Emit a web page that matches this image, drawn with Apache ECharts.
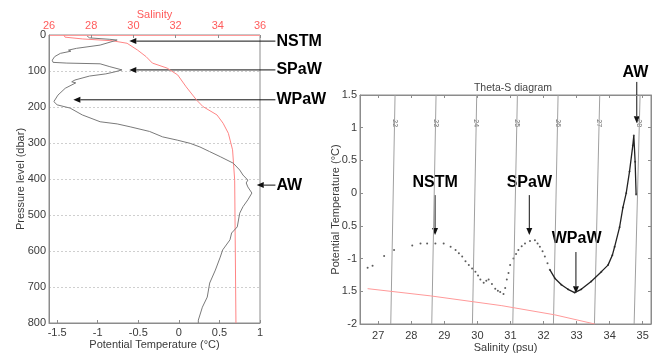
<!DOCTYPE html>
<html>
<head>
<meta charset="utf-8">
<script src="https://cdn.jsdelivr.net/npm/echarts@6/dist/echarts.min.js"></script>
<style>
  html, body { margin: 0; padding: 0; background: #fff; }
  #chart { width: 657px; height: 357px; }
</style>
</head>
<body>
<div id="chart"></div>
<script>
// left panel: potential temperature and salinity profiles vs pressure
const profTemp = [-1.13, -1.1, -0.85, -0.76, -0.97, -1.26, -1.36, -1.33, -1.46, -1.53, -1.56, -1.55, -1.38, -0.97,
  -0.85, -0.7, -0.8, -0.9, -1.1, -1.28, -1.32, -1.27, -1.4, -1.49, -1.54, -1.5, -1.34, -1.19, -0.97, -0.76,
  -0.6, -0.36, -0.2, -0.02, 0.14, 0.26, 0.38, 0.51, 0.67, 0.75, 0.79, 0.85, 0.83, 0.85, 0.9, 0.85, 0.79,
  0.75, 0.72, 0.65, 0.63, 0.54, 0.51, 0.45, 0.38, 0.35, 0.29, 0.24, 0.24];
const profTempP = [3, 8, 12, 14, 28, 37, 42, 45, 51, 60, 70, 76, 78, 80,
  88, 97, 103, 108, 114, 125, 130, 133, 148, 167, 185, 194, 203, 222, 241, 247,
  255, 268, 283, 292, 301, 311, 324, 338, 356, 375, 389, 403, 411, 422, 439, 458, 477,
  495, 533, 550, 569, 597, 617, 653, 689, 728, 756, 792, 800];
const profSal = [26.7, 26.76, 27.6, 29.0, 29.7, 30.2, 30.6, 30.9, 31.6, 32.1, 32.5, 33.0, 33.3, 33.96,
  34.25, 34.5, 34.7, 34.8, 34.86];
const profSalP = [0, 6, 11, 16, 23, 42, 60, 78, 92, 111, 144, 181, 199, 222, 245, 273, 319, 403, 800];
const profTempTicks = [-1.5, -1, -0.5, 0, 0.5, 1];

// right panel: theta-S diagram
const tsSal = [26.68, 26.83, 27.18, 27.48, 28.03, 28.28, 28.48, 28.73, 28.98, 29.19, 29.34, 29.44, 29.54, 29.64,
  29.74, 29.84, 29.94, 30.02, 30.09, 30.19, 30.27, 30.34, 30.44, 30.54, 30.62, 30.69, 30.79, 30.84, 30.89,
  30.94, 30.99, 31.09, 31.17, 31.24, 31.34, 31.44, 31.59, 31.74, 31.82, 31.89, 31.97, 32.04, 32.12, 32.19,
  32.34, 32.54, 32.74, 32.94, 33.14, 33.44, 33.75, 33.95, 34.08, 34.15, 34.3, 34.4, 34.5, 34.6, 34.7, 34.73,
  34.77, 34.8];
const tsTemp = [-1.14, -1.11, -0.96, -0.87, -0.8, -0.77, -0.77, -0.77, -0.77, -0.82, -0.87, -0.92, -0.97, -1.04,
  -1.1, -1.15, -1.2, -1.26, -1.32, -1.37, -1.34, -1.32, -1.39, -1.46, -1.49, -1.51, -1.54, -1.45, -1.32,
  -1.22, -1.1, -1.0, -0.93, -0.87, -0.81, -0.77, -0.73, -0.72, -0.77, -0.82, -0.89, -0.97, -1.07, -1.17,
  -1.3, -1.4, -1.47, -1.52, -1.47, -1.35, -1.2, -1.1, -0.95, -0.82, -0.52, -0.22, 0.0, 0.33, 0.73, 0.88,
  0.48, -0.02];
const tsDenseFrom = 43;
const freezeSal = [26.68, 28.58, 30.74, 32.34, 33.55];
const freezeTemp = [-1.46, -1.57, -1.72, -1.86, -2.0];
const sigmaNames = ['22', '23', '24', '25', '26', '27', '28'];
const sigmaSalBottom = [27.38, 28.62, 29.85, 31.07, 32.3, 33.54, 34.74];
const sigmaSalTop = [27.51, 28.75, 29.98, 31.21, 32.44, 33.7, 34.92];
const tsSalTicks = [27, 28, 29, 30, 31, 32, 33, 34, 35];
const tsTempLabels = ['-2', '1.5', '-1', '0.5', '0', '0.5', '1', '1.5'];

const FONT = 'Liberation Sans, Arial, sans-serif';
const AXIS_GRAY = '#8c8c8c';
const LABEL = '#3a3a3a';
const RED = '#ff5c5c';

const chart = echarts.init(document.getElementById('chart'));

const lbl = (extra) => Object.assign({ color: LABEL, fontSize: 11, fontFamily: FONT }, extra);
const axLine = (color) => ({ onZero: false, lineStyle: { color: color || AXIS_GRAY } });

const sigmaLabelTemp = 1.07;
const sigmaLabelData = sigmaNames.map((n, i) => ({
  name: n,
  value: [sigmaSalBottom[i] + (sigmaSalTop[i] - sigmaSalBottom[i]) * (sigmaLabelTemp + 2) / 3.5, sigmaLabelTemp],
}));

const option = {
  animation: false,
  backgroundColor: '#fff',
  textStyle: { fontFamily: FONT },
  title: {
    text: 'Theta-S diagram',
    left: 508, top: 78, textAlign: 'center',
    textStyle: { fontSize: 10.5, fontWeight: 'normal', color: '#444', fontFamily: FONT },
  },
  grid: [
    { left: 49, top: 35, width: 211, height: 288, show: true, borderColor: AXIS_GRAY, borderWidth: 1, outerBoundsMode: 'none' },
    { left: 360, top: 95, width: 291, height: 229, show: true, borderColor: AXIS_GRAY, borderWidth: 1, outerBoundsMode: 'none' },
  ],
  xAxis: [
    {
      gridIndex: 0, type: 'value', min: -1.6, max: 1, position: 'bottom',
      name: 'Potential Temperature (°C)', nameLocation: 'middle', nameGap: 16, nameMoveOverlap: false,
      nameTextStyle: lbl({ fontSize: 11 }),
      axisLine: axLine(),
      axisTick: { inside: true, length: 3, customValues: profTempTicks, lineStyle: { color: AXIS_GRAY } },
      axisLabel: lbl({ customValues: profTempTicks, margin: 4 }),
      splitLine: { show: false },
    },
    {
      gridIndex: 0, type: 'value', min: 26, max: 36, interval: 2, position: 'top',
      name: 'Salinity', nameLocation: 'middle', nameGap: 15, nameMoveOverlap: false,
      nameTextStyle: { color: RED, fontSize: 11, fontFamily: FONT },
      axisLine: axLine('#ff9a9a'),
      axisTick: { inside: true, length: 3, lineStyle: { color: AXIS_GRAY } },
      axisLabel: { color: RED, fontSize: 11, fontFamily: FONT, margin: 4 },
      splitLine: { show: false },
    },
    {
      gridIndex: 1, type: 'value', min: 26.45, max: 35.25, position: 'bottom',
      name: 'Salinity (psu)', nameLocation: 'middle', nameGap: 18, nameMoveOverlap: false,
      nameTextStyle: lbl({ fontSize: 11 }),
      axisLine: axLine(),
      axisTick: { inside: true, length: 3, customValues: tsSalTicks, lineStyle: { color: AXIS_GRAY } },
      axisLabel: lbl({ customValues: tsSalTicks, margin: 6 }),
      splitLine: { show: false },
    },
    {
      gridIndex: 1, type: 'value', min: 26.45, max: 35.25, position: 'top',
      axisLine: axLine(),
      axisTick: { inside: true, length: 3, customValues: tsSalTicks, lineStyle: { color: AXIS_GRAY } },
      axisLabel: { show: false },
      splitLine: { show: false },
    },
  ],
  yAxis: [
    {
      gridIndex: 0, type: 'value', min: 0, max: 800, interval: 100, inverse: true,
      name: 'Pressure level (dbar)', nameLocation: 'middle', nameGap: 23, nameMoveOverlap: false,
      nameTextStyle: lbl({ fontSize: 11 }),
      axisLine: axLine(),
      axisTick: { show: false },
      axisLabel: lbl({ margin: 3 }),
      splitLine: { show: true, lineStyle: { color: '#cfcfcf', type: [2, 2] } },
    },
    {
      gridIndex: 1, type: 'value', min: -2, max: 1.5, interval: 0.5,
      name: 'Potential Temperature (°C)', nameLocation: 'middle', nameGap: 19, nameMoveOverlap: false,
      nameTextStyle: lbl({ fontSize: 11 }),
      axisLine: axLine(),
      axisTick: { inside: true, length: 3, lineStyle: { color: AXIS_GRAY } },
      axisLabel: lbl({ margin: 3, formatter: (v) => tsTempLabels[Math.round((v + 2) / 0.5)] }),
      splitLine: { show: false },
    },
    {
      gridIndex: 1, type: 'value', min: -2, max: 1.5, interval: 0.5, position: 'right',
      axisLine: axLine(),
      axisTick: { inside: true, length: 3, lineStyle: { color: AXIS_GRAY } },
      axisLabel: { show: false },
      splitLine: { show: false },
    },
  ],
  series: [
    {
      type: 'line', xAxisIndex: 1, yAxisIndex: 0, symbol: 'none',
      lineStyle: { color: '#ff8585', width: 1 },
      data: profSal.map((s, i) => [s, profSalP[i]]),
    },
    {
      type: 'line', xAxisIndex: 0, yAxisIndex: 0, symbol: 'none',
      lineStyle: { color: '#7a7a7a', width: 1 },
      data: profTemp.map((t, i) => [t, profTempP[i]]),
    },
    ...sigmaNames.map((n, i) => ({
      type: 'line', xAxisIndex: 2, yAxisIndex: 1, symbol: 'none', silent: true,
      lineStyle: { color: '#a0a0a0', width: 1 },
      data: [[sigmaSalBottom[i], -2], [sigmaSalTop[i], 1.5]],
    })),
    {
      type: 'scatter', xAxisIndex: 2, yAxisIndex: 1, symbolSize: 0,
      label: { show: true, formatter: '{b}', rotate: -90, position: 'inside', fontSize: 7, color: '#444', fontFamily: FONT },
      data: sigmaLabelData,
    },
    {
      type: 'line', xAxisIndex: 2, yAxisIndex: 1, symbol: 'none',
      lineStyle: { color: '#ff9a9a', width: 1 },
      data: freezeSal.map((s, i) => [s, freezeTemp[i]]),
    },
    {
      type: 'scatter', xAxisIndex: 2, yAxisIndex: 1, symbolSize: 2,
      itemStyle: { color: '#333' },
      data: tsSal.map((s, i) => [s, tsTemp[i]]),
    },
    {
      type: 'line', xAxisIndex: 2, yAxisIndex: 1, symbol: 'none',
      lineStyle: { color: '#222', width: 1.3 },
      data: tsSal.slice(tsDenseFrom).map((s, i) => [s, tsTemp[tsDenseFrom + i]]),
    },
  ],
};

chart.setOption(option);

// annotations: label + arrow, in data coordinates of each panel
const leftNotes = [
  { text: 'NSTM', tail: [1.19, 17], tip: [-0.61, 17] },
  { text: 'SPaW', tail: [1.19, 97], tip: [-0.61, 97] },
  { text: 'WPaW', tail: [1.19, 180], tip: [-1.3, 180] },
  { text: 'AW', tail: [1.19, 417], tip: [0.96, 417] },
];
const rightNotes = [
  { text: 'NSTM', at: [28.72, 0.16], tail: [28.72, -0.03], tip: [28.72, -0.64] },
  { text: 'SPaW', at: [31.57, 0.16], tail: [31.57, -0.03], tip: [31.57, -0.64] },
  { text: 'WPaW', at: [33.0, -0.7], tail: [32.98, -0.9], tip: [32.98, -1.53] },
  { text: 'AW', at: [34.78, 1.85], tail: [34.82, 1.7], tip: [34.82, 1.07] },
];

function arrowShapes(a, b) {
  const dx = b[0] - a[0], dy = b[1] - a[1];
  const len = Math.hypot(dx, dy), ux = dx / len, uy = dy / len;
  const hl = 7, hw = 3;
  const base = [b[0] - ux * hl, b[1] - uy * hl];
  return [
    { type: 'line', shape: { x1: a[0], y1: a[1], x2: base[0], y2: base[1] }, style: { stroke: '#111', lineWidth: 1 } },
    {
      type: 'polygon',
      shape: { points: [b, [base[0] - uy * hw, base[1] + ux * hw], [base[0] + uy * hw, base[1] - ux * hw]] },
      style: { fill: '#111' },
    },
  ];
}

const noteFont = { fontSize: 16, fontWeight: 'bold', fontFamily: FONT, fill: '#000' };
const graphics = [];
leftNotes.forEach((n) => {
  const a = chart.convertToPixel({ xAxisIndex: 0, yAxisIndex: 0 }, n.tail);
  const b = chart.convertToPixel({ xAxisIndex: 0, yAxisIndex: 0 }, n.tip);
  graphics.push(...arrowShapes(a, b));
  graphics.push({
    type: 'text', x: a[0] + 1, y: a[1],
    style: Object.assign({ text: n.text, verticalAlign: 'middle', align: 'left' }, noteFont),
  });
});
rightNotes.forEach((n) => {
  const p = chart.convertToPixel({ xAxisIndex: 2, yAxisIndex: 1 }, n.at);
  const a = chart.convertToPixel({ xAxisIndex: 2, yAxisIndex: 1 }, n.tail);
  const b = chart.convertToPixel({ xAxisIndex: 2, yAxisIndex: 1 }, n.tip);
  graphics.push(...arrowShapes(a, b));
  graphics.push({
    type: 'text', x: p[0], y: p[1],
    style: Object.assign({ text: n.text, verticalAlign: 'middle', align: 'center' }, noteFont),
  });
});
chart.setOption({ graphic: graphics });
</script>
</body>
</html>
